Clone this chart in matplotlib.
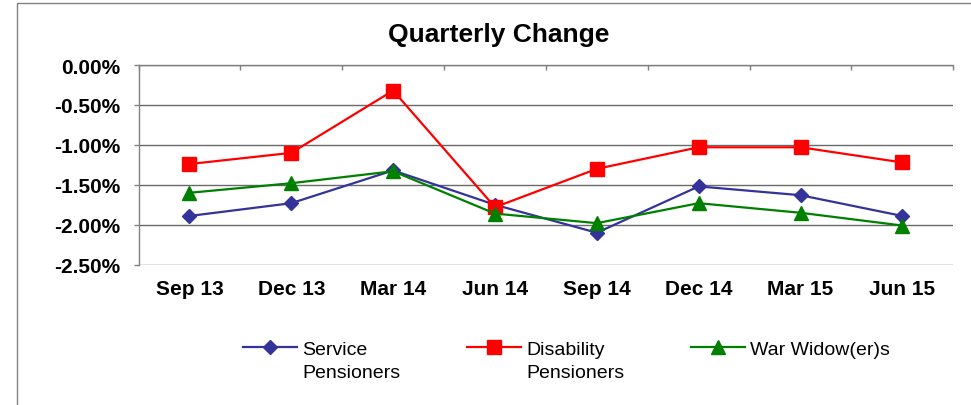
import matplotlib
matplotlib.use("Agg")
import matplotlib.pyplot as plt
from matplotlib.patches import Rectangle
from matplotlib.ticker import FixedLocator, FuncFormatter

plt.rcParams['font.family'] = ['Liberation Sans', 'DejaVu Sans']

quarters = ["Sep 13", "Dec 13", "Mar 14", "Jun 14", "Sep 14", "Dec 14", "Mar 15", "Jun 15"]
service = [-1.89, -1.73, -1.32, -1.75, -2.10, -1.52, -1.63, -1.89]
disability = [-1.24, -1.10, -0.32, -1.78, -1.30, -1.03, -1.03, -1.22]
widows = [-1.60, -1.48, -1.33, -1.86, -1.98, -1.73, -1.85, -2.01]
series_first = ["Service", "Disability", "War Widow(er)s"]
series_second = ["Pensioners", "Pensioners", ""]
y_ticks = [0.0, -0.5, -1.0, -1.5, -2.0, -2.5]

W, H = 971, 406
fig = plt.figure(figsize=(W/100, H/100), dpi=100)
ax = fig.add_axes([138.5/W, 1-265.7/H, (953.3-138.5)/W, (265.7-66)/H])

x = list(range(len(quarters)))
gray = '#808080'
h1, = ax.plot(x, service, color='#333399', lw=1.6, marker='D', ms=7, zorder=3)
h2, = ax.plot(x, disability, color='#FF0000', lw=1.6, marker='s', ms=10, zorder=3)
h3, = ax.plot(x, widows, color='#008000', lw=1.6, marker='^', ms=10, zorder=3)

ax.set_xlim(-0.5, len(quarters)-0.5)
ax.set_ylim(-2.5, 0.0)
ax.set_yticks(y_ticks)
ax.yaxis.set_major_formatter(FuncFormatter(lambda v, p: f"{v:.2f}%"))
ax.tick_params(axis='y', direction='out', length=3.6, width=1.0, color=gray, pad=9.4,
               labelsize=15)
for lab in ax.get_yticklabels():
    lab.set_fontweight('bold')

ax.set_xticks(x)
ax.set_xticklabels(quarters, fontsize=15, fontweight='bold')
ax.xaxis.set_minor_locator(FixedLocator([i - 0.5 for i in range(len(quarters)+1)]))
ax.tick_params(axis='x', which='major', length=0, pad=10)
ax.tick_params(axis='x', which='minor', top=True, bottom=False, direction='in',
               length=3.6, width=1.0, color=gray)

ax.grid(axis='y', color='#6a6a6a', lw=1.0)
ax.set_axisbelow(True)
for s in ['right', 'bottom']:
    ax.spines[s].set_visible(False)
for s in ['left', 'top']:
    ax.spines[s].set_color(gray)
    ax.spines[s].set_linewidth(1.0)

fig.text(498.6/W, 1-42.3/H, "Quarterly Change", ha='center', va='baseline',
         fontsize=19, fontweight='bold')

fig.add_artist(Rectangle((16.5/W, -0.1), 1.2, 1.1 - 3.5/H, transform=fig.transFigure,
                         fill=False, edgecolor=gray, lw=1.0))

legends = []
for h, lab, xpx in zip([h1, h2, h3], series_first, [243, 467, 691]):
    leg = fig.legend([h], [lab], loc='upper left',
                     bbox_to_anchor=(xpx/W, 1-341.5/H), frameon=False, fontsize=14,
                     handlelength=2.77, handletextpad=0.26,
                     borderpad=0, borderaxespad=0)
    legends.append(leg)

fig.canvas.draw()
renderer = fig.canvas.get_renderer()
for leg, second in zip(legends, series_second):
    if not second:
        continue
    t = leg.get_texts()[0]
    bb = t.get_window_extent(renderer)
    fig.text(bb.x0/W, (bb.y0 - 23)/H, second, ha='left', va='bottom', fontsize=14)

fig.savefig("out.png", dpi=100)
